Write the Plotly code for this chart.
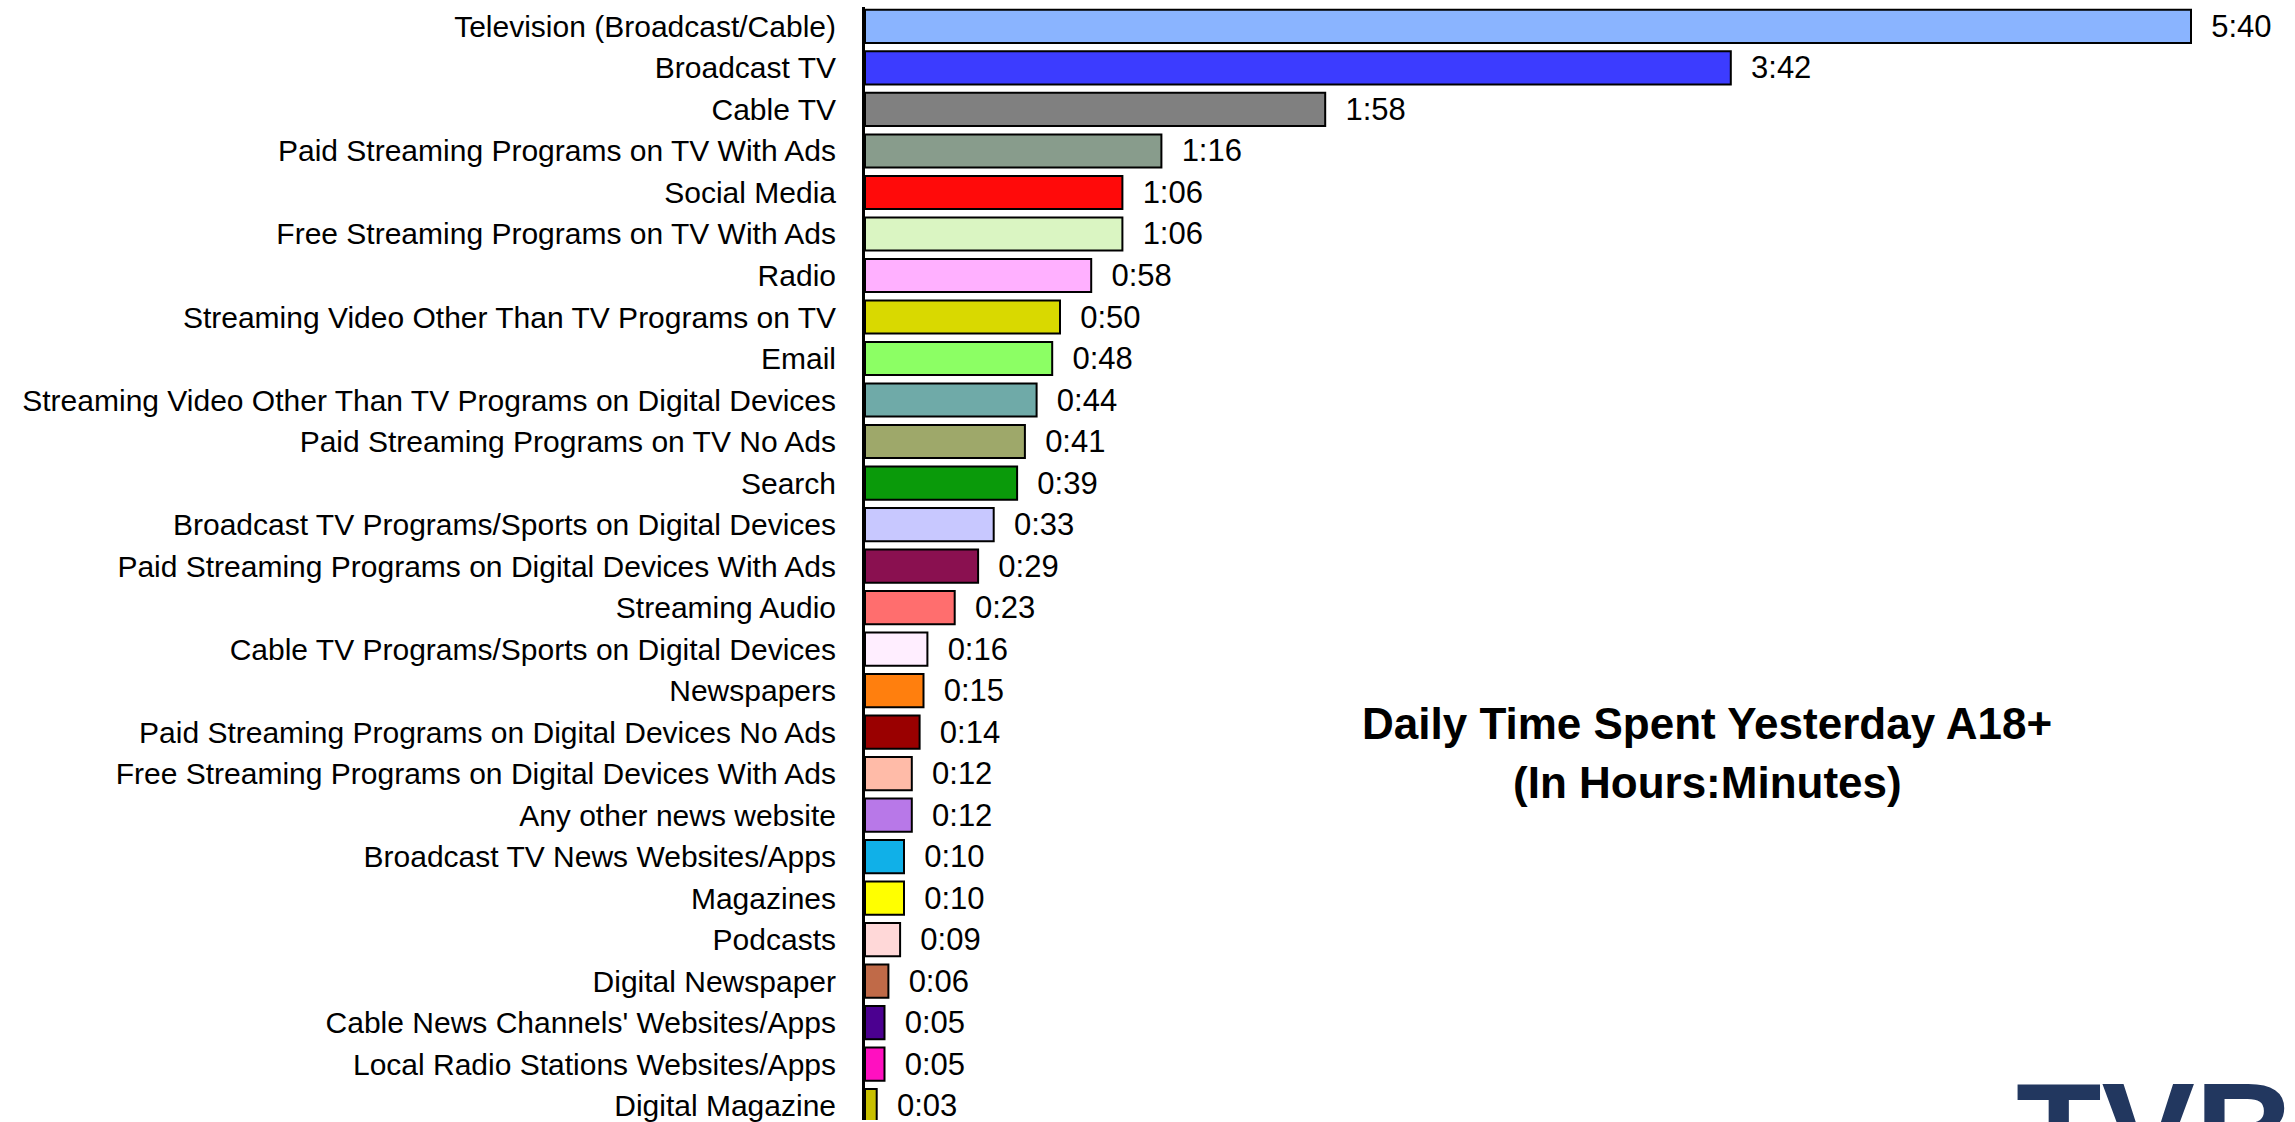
import plotly.graph_objects as go

categories = [
    "Television (Broadcast/Cable)",
    "Broadcast TV",
    "Cable TV",
    "Paid Streaming Programs on TV With Ads",
    "Social Media",
    "Free Streaming Programs on TV With Ads",
    "Radio",
    "Streaming Video Other Than TV Programs on TV",
    "Email",
    "Streaming Video Other Than TV Programs on Digital Devices",
    "Paid Streaming Programs on TV No Ads",
    "Search",
    "Broadcast TV Programs/Sports on Digital Devices",
    "Paid Streaming Programs on Digital Devices With Ads",
    "Streaming Audio",
    "Cable TV Programs/Sports on Digital Devices",
    "Newspapers",
    "Paid Streaming Programs on Digital Devices No Ads",
    "Free Streaming Programs on Digital Devices With Ads",
    "Any other news website",
    "Broadcast TV News Websites/Apps",
    "Magazines",
    "Podcasts",
    "Digital Newspaper",
    "Cable News Channels' Websites/Apps",
    "Local Radio Stations Websites/Apps",
    "Digital Magazine",
]

minutes = [340, 222, 118, 76, 66, 66, 58, 50, 48, 44, 41, 39, 33, 29, 23,
           16, 15, 14, 12, 12, 10, 10, 9, 6, 5, 5, 3]

value_labels = ["5:40", "3:42", "1:58", "1:16", "1:06", "1:06", "0:58", "0:50",
                "0:48", "0:44", "0:41", "0:39", "0:33", "0:29", "0:23", "0:16",
                "0:15", "0:14", "0:12", "0:12", "0:10", "0:10", "0:09", "0:06",
                "0:05", "0:05", "0:03"]

colors = [
    "#8AB4FF", "#3C3CFF", "#808080", "#889C8C", "#FF0A0A", "#DAF5C2",
    "#FFB0FF", "#D9D900", "#8CFF64", "#6FAAA8", "#9EA86A", "#0A9A0A",
    "#C8C8FF", "#8A1050", "#FF6E6E", "#FFEEFF", "#FF7F0E", "#9A0000",
    "#FFBBA8", "#B878E8", "#10B0E8", "#FFFF00", "#FFD8D8", "#C06A48",
    "#4B0090", "#FF10C0", "#C8C000",
]

title_line1 = "Daily Time Spent Yesterday A18+"
title_line2 = "(In Hours:Minutes)"
logo_text = "TVB"

W, H = 2295, 1122
left, top = 865, 7
plot_w = W - left
px_per_min = 3.9
row_px = 41.58
first_center = 26.5

fig = go.Figure()
fig.add_trace(go.Bar(
    x=minutes,
    y=categories,
    orientation="h",
    marker=dict(color=colors, line=dict(color="black", width=2)),
    text=["\u00a0\u00a0" + t for t in value_labels],
    textposition="outside",
    constraintext="none",
    textfont=dict(family="Liberation Sans, Arial, sans-serif", size=31, color="black"),
    cliponaxis=False,
    width=0.8,
))

y_top = (top - first_center) / row_px
y_bot = (H - first_center) / row_px

fig.update_layout(
    width=W, height=H,
    margin=dict(l=left, r=0, t=top, b=0),
    paper_bgcolor="white",
    plot_bgcolor="white",
    showlegend=False,
    xaxis=dict(range=[0, plot_w / px_per_min], visible=False, fixedrange=True),
    yaxis=dict(
        range=[y_bot, y_top],
        showline=True, linecolor="black", linewidth=3,
        ticks="", showgrid=False, zeroline=False,
        tickfont=dict(family="Liberation Sans, Arial, sans-serif", size=30, color="black"),
        ticklabelstandoff=20,
    ),
    annotations=[
        dict(text="<b>" + title_line1 + "</b>", x=(1707 - left) / plot_w, y=1 - (725 - top) / (H - top),
             xref="paper", yref="paper", xanchor="center", yanchor="middle", showarrow=False,
             font=dict(family="Liberation Sans, Arial, sans-serif", size=44, color="black")),
        dict(text="<b>" + title_line2 + "</b>", x=(1707 - left) / plot_w, y=1 - (784 - top) / (H - top),
             xref="paper", yref="paper", xanchor="center", yanchor="middle", showarrow=False,
             font=dict(family="Liberation Sans, Arial, sans-serif", size=44, color="black")),
        dict(text="<b>" + logo_text + "</b>", x=(2014 - left) / plot_w, y=(H - 1053) / (H - top),
             xref="paper", yref="paper", xanchor="left", yanchor="top", showarrow=False,
             font=dict(family="Liberation Sans, Arial, sans-serif", size=140, color="#22375F")),
    ],
)

fig.write_html("out.html")
